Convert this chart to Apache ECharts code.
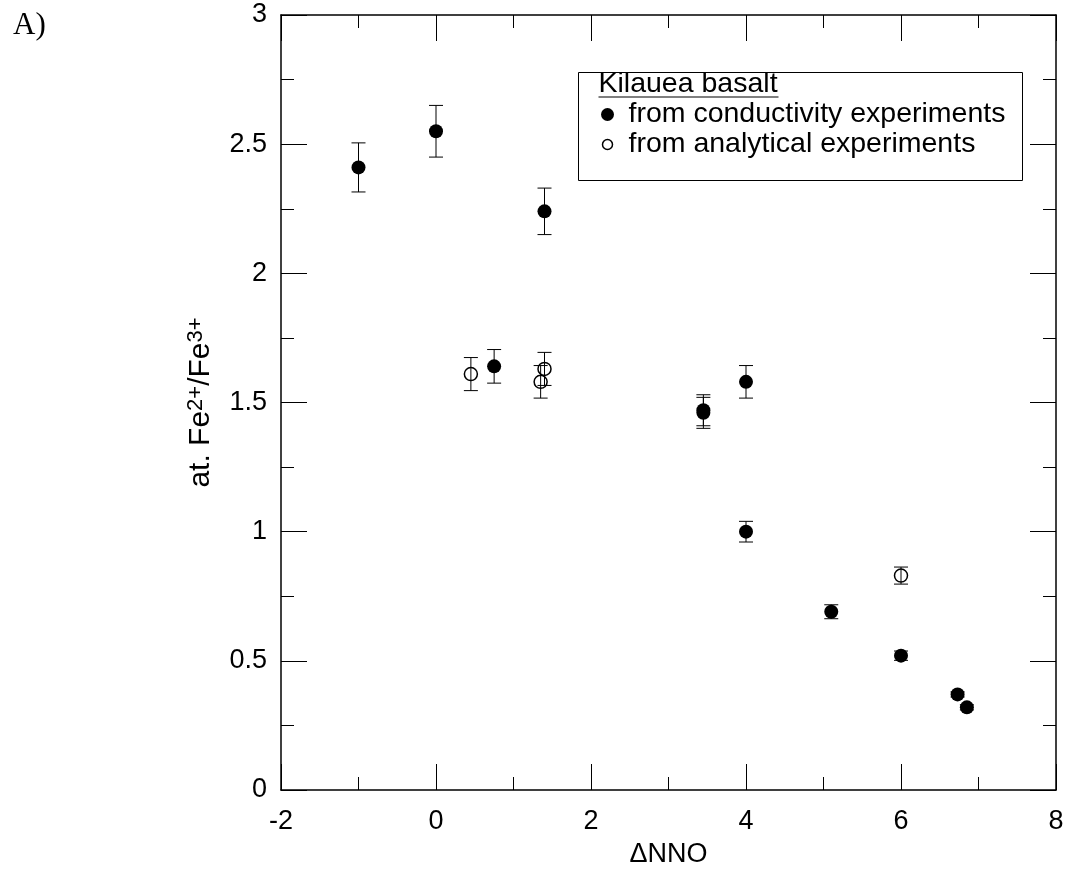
<!DOCTYPE html>
<html>
<head>
<meta charset="utf-8">
<script src="https://cdn.jsdelivr.net/npm/echarts@6/dist/echarts.min.js"></script>
<style>
html,body{margin:0;padding:0;background:#fff;}
#chart{width:1067px;height:871px;}
</style>
</head>
<body>
<div id="chart"></div>
<script>
// ---- data ----
const condX   = [-1, 0, 1.4, 0.75, 3.45, 3.45, 4, 4, 5.1, 6, 6.73, 6.85];
const condY   = [2.41, 2.55, 2.24, 1.64, 1.47, 1.46, 1.58, 1.0, 0.69, 0.52, 0.37, 0.32];
const condErr = [0.095, 0.10, 0.09, 0.065, 0.06, 0.06, 0.063, 0.04, 0.027, 0.018, 0.01, 0.01];

const anX   = [0.45, 1.35, 1.4, 6];
const anY   = [1.61, 1.58, 1.63, 0.83];
const anErr = [0.064, 0.063, 0.064, 0.033];

const xRange = [-2, 8, 2];
const yRange = [0, 3, 0.5];

const legendTitle = 'Kilauea basalt';
const legendLabels = ['from conductivity experiments', 'from analytical experiments'];
const xName = 'ΔNNO';
const panelLabel = 'A)';

// ---- chart ----
const FONT = '"Liberation Sans", Arial, Helvetica, sans-serif';
const chart = echarts.init(document.getElementById('chart'), null, {renderer: 'canvas'});

const condData = condX.map((x, i) => [x, condY[i], condErr[i]]);
const anData = anX.map((x, i) => [x, anY[i], anErr[i]]);

function errRender(params, api) {
  const x = api.value(0), y = api.value(1), e = api.value(2);
  const t = api.coord([x, y + e]);
  const b = api.coord([x, y - e]);
  const w = 7;
  const st = {stroke: '#000', lineWidth: 1};
  return {
    type: 'group',
    children: [
      {type: 'line', shape: {x1: t[0], y1: t[1], x2: b[0], y2: b[1]}, style: st},
      {type: 'line', shape: {x1: t[0] - w, y1: t[1], x2: t[0] + w, y2: t[1]}, style: st},
      {type: 'line', shape: {x1: b[0] - w, y1: b[1], x2: b[0] + w, y2: b[1]}, style: st}
    ]
  };
}

function makeAxis(kind, pos, showLabel) {
  const r = kind === 'x' ? xRange : yRange;
  return {
    type: 'value',
    position: pos,
    min: r[0], max: r[1], interval: r[2],
    axisLine: {show: true, onZero: false, lineStyle: {color: '#000', width: 1.5}},
    axisTick: {show: true, inside: true, length: 26, lineStyle: {color: '#000', width: 1}},
    minorTick: {show: true, splitNumber: 2, length: 13, lineStyle: {color: '#000', width: 1}},
    splitLine: {show: false},
    minorSplitLine: {show: false},
    axisLabel: {show: showLabel, color: '#000', fontSize: 27, fontFamily: FONT, margin: kind === 'x' ? 18 : 14}
  };
}

const xBottom = makeAxis('x', 'bottom', true);
xBottom.name = xName;
xBottom.nameLocation = 'middle';
xBottom.nameGap = 51;
xBottom.nameTextStyle = {color: '#000', fontSize: 27, fontFamily: FONT};

const yLeft = makeAxis('y', 'left', true);
yLeft.name = '{a|at. Fe}{s|2+}{a|/Fe}{s|3+}';
yLeft.nameLocation = 'middle';
yLeft.nameGap = 64;
yLeft.nameRotate = 90;
yLeft.nameTextStyle = {
  rich: {
    a: {fontSize: 30, fontFamily: FONT, color: '#000', lineHeight: 32},
    s: {fontSize: 22, fontFamily: FONT, color: '#000', lineHeight: 22, verticalAlign: 'top'}
  }
};

const option = {
  animation: false,
  backgroundColor: '#fff',
  grid: {left: 281, right: 11, top: 15, bottom: 81, outerBoundsMode: 'none'},
  xAxis: [xBottom, makeAxis('x', 'top', false)],
  yAxis: [yLeft, makeAxis('y', 'right', false)],
  series: [
    {type: 'custom', xAxisIndex: 0, yAxisIndex: 0, renderItem: errRender, data: condData, encode: {x: 0, y: 1}, z: 2, silent: true},
    {type: 'custom', xAxisIndex: 0, yAxisIndex: 0, renderItem: errRender, data: anData, encode: {x: 0, y: 1}, z: 2, silent: true},
    {type: 'scatter', name: legendLabels[0], xAxisIndex: 0, yAxisIndex: 0, data: condData.map(d => [d[0], d[1]]),
     symbol: 'circle', symbolSize: 14, itemStyle: {color: '#000', opacity: 1}, z: 3},
    {type: 'scatter', name: legendLabels[1], xAxisIndex: 0, yAxisIndex: 0, data: anData.map(d => [d[0], d[1]]),
     symbol: 'circle', symbolSize: 13, itemStyle: {color: 'rgba(0,0,0,0)', borderColor: '#000', borderWidth: 1.5, opacity: 1}, z: 3}
  ],
  graphic: [
    {type: 'text', left: 13, top: 10, style: {text: panelLabel, font: '31px "Liberation Serif", "Times New Roman", serif', fill: '#000'}},
    {type: 'group', left: 578, top: 70, children: [
      {type: 'rect', shape: {x: 0, y: 0, width: 444, height: 108}, style: {fill: '#fff', stroke: '#000', lineWidth: 1}},
      {type: 'text', x: 20, y: 12, style: {text: legendTitle, font: '28.5px ' + FONT, fill: '#000', verticalAlign: 'middle', align: 'left'}},
      {type: 'line', shape: {x1: 20, y1: 24.5, x2: 200, y2: 24.5}, style: {stroke: '#000', lineWidth: 1.2}},
      {type: 'circle', shape: {cx: 29, cy: 42, r: 6.5}, style: {fill: '#000'}},
      {type: 'text', x: 50, y: 42, style: {text: legendLabels[0], font: '28.5px ' + FONT, fill: '#000', verticalAlign: 'middle', align: 'left'}},
      {type: 'circle', shape: {cx: 29, cy: 72, r: 5}, style: {fill: 'none', stroke: '#000', lineWidth: 1.5}},
      {type: 'text', x: 50, y: 72, style: {text: legendLabels[1], font: '28.5px ' + FONT, fill: '#000', verticalAlign: 'middle', align: 'left'}}
    ]}
  ]
};
chart.setOption(option);
</script>
</body>
</html>
